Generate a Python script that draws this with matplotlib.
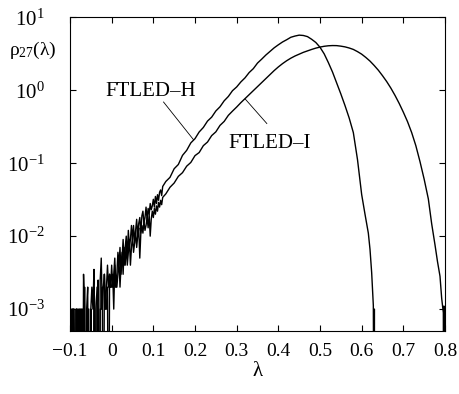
import numpy as np
import matplotlib
matplotlib.use("Agg")
import matplotlib.pyplot as plt
from matplotlib.ticker import FixedLocator, FixedFormatter, NullLocator

plt.rcParams['font.family'] = ['Liberation Serif', 'DejaVu Serif']
plt.rcParams['mathtext.fontset'] = 'custom'
plt.rcParams['mathtext.rm'] = 'Liberation Serif'
plt.rcParams['mathtext.it'] = 'Liberation Serif:italic'

# noisy low-density part: histogram bins from lambda=-0.1, width 0.0025 (values in 1e-3)
bin_start = -0.1
bin_width = 0.0025
noisy_h = [1.5, 0, 1, 1, 0, 0, 1, 1, 0, 1,
           1, 0, 0, 3, 1, 0, 1, 2, 0, 0,
           1, 2, 1, 3.5, 0, 1, 2, 1, 0, 2.5,
           5, 1, 2, 3, 1, 2, 4, 2, 3, 2,
           4, 2, 3, 5, 2, 3, 6, 4, 7, 3,
           5, 9, 4, 7, 10, 5, 12, 7, 9, 14,
           9, 14, 8, 12, 17, 10, 15, 18, 11, 19,
           22, 15, 18, 25, 17, 24, 20, 28, 23, 26,
           32, 25, 35, 28, 37, 31, 40, 43, 36, 48]
noisy_i = [0, 1, 0, 1, 1, 0, 1, 0, 1, 0,
           0, 1, 1, 0, 2, 0, 0, 1, 1, 0,
           1, 0, 0, 2, 1, 0, 1, 2.5, 0, 1,
           1, 2, 0, 3, 1, 1, 2, 0, 3, 2,
           2, 3, 1, 4, 2, 2, 3, 5, 2, 4,
           6, 3, 7, 4, 8, 4, 6, 9, 4, 7,
           10, 6, 8, 12, 7, 10, 13, 5, 11, 14,
           11, 16, 12, 14, 18, 13, 20, 10, 17, 22,
           18, 24, 20, 26, 22, 29, 25, 31, 27, 34]

# smooth part of the FTLED-H density
lam_h = [0.13, 0.14, 0.15, 0.16, 0.17, 0.18, 0.19, 0.20, 0.21, 0.22, 0.23, 0.24,
         0.25, 0.26, 0.27, 0.28, 0.29, 0.30, 0.31, 0.32, 0.33, 0.34, 0.35, 0.36,
         0.37, 0.38, 0.39, 0.40, 0.41, 0.42, 0.43, 0.44, 0.45, 0.46, 0.47, 0.48,
         0.49, 0.50, 0.51, 0.52, 0.53, 0.54, 0.55, 0.56, 0.57, 0.58, 0.59, 0.60,
         0.608, 0.616, 0.620, 0.624, 0.628, 0.630, 0.6305, 0.631, 0.632]
rho_h = [0.0562, 0.0640, 0.0840, 0.096, 0.128, 0.150, 0.190, 0.217, 0.268, 0.309, 0.378, 0.428,
         0.520, 0.594, 0.717, 0.822, 0.987, 1.11, 1.30, 1.48, 1.75, 1.98, 2.36, 2.67,
         3.04, 3.41, 3.82, 4.20, 4.59, 4.93, 5.33, 5.54, 5.70, 5.64, 5.44, 5.00,
         4.52, 3.89, 3.16, 2.40, 1.78, 1.26, 0.891, 0.617, 0.417, 0.263, 0.112, 0.0372,
         0.0200, 0.0110, 0.0066, 0.00316, 0.00112, 0.0, 0.001, 0.0, 0.0]

# smooth part of the FTLED-I density
lam_i = [0.13, 0.14, 0.15, 0.16, 0.17, 0.18, 0.19, 0.20, 0.21, 0.22, 0.23, 0.24,
         0.25, 0.26, 0.27, 0.28, 0.29, 0.30, 0.31, 0.32, 0.33, 0.34, 0.35, 0.36,
         0.37, 0.38, 0.39, 0.40, 0.41, 0.42, 0.43, 0.44, 0.45, 0.46, 0.47, 0.48,
         0.49, 0.50, 0.51, 0.52, 0.53, 0.54, 0.55, 0.56, 0.57, 0.58, 0.59, 0.60,
         0.61, 0.62, 0.63, 0.64, 0.65, 0.66, 0.67, 0.68, 0.69, 0.70, 0.71, 0.72,
         0.73, 0.74, 0.75, 0.76, 0.768, 0.776, 0.782, 0.788, 0.792, 0.796, 0.797,
         0.7975, 0.798]
rho_i = [0.0380, 0.0468, 0.0535, 0.0660, 0.0742, 0.0910, 0.1025, 0.127, 0.140, 0.174, 0.195, 0.239,
         0.269, 0.330, 0.374, 0.453, 0.518, 0.589, 0.676, 0.767, 0.871, 0.989, 1.122, 1.274,
         1.445, 1.641, 1.862, 2.089, 2.317, 2.541, 2.754, 2.951, 3.126, 3.311, 3.467, 3.631,
         3.784, 3.908, 4.009, 4.074, 4.102, 4.093, 4.027, 3.936, 3.80, 3.631, 3.388, 3.126,
         2.818, 2.512, 2.188, 1.884, 1.585, 1.318, 1.072, 0.851, 0.661, 0.501, 0.372, 0.263,
         0.174, 0.105, 0.0603, 0.0324, 0.0148, 0.00759, 0.00447, 0.00282, 0.00141, 0.00089, 0.0,
         0.0011, 0.0]

xticks = [-0.1, 0, 0.1, 0.2, 0.3, 0.4, 0.5, 0.6, 0.7, 0.8]
xlabels = ['\u22120.1', '0', '0.1', '0.2', '0.3', '0.4', '0.5', '0.6', '0.7', '0.8']
yticks = [1e-3, 1e-2, 1e-1, 1e0, 1e1]
ylabels = [r'$10^{-3}$', r'$10^{-2}$', r'$10^{-1}$', r'$10^{0}$', r'$10^{1}$']


def series(noisy, lam, rho):
    x = bin_start + bin_width * np.arange(len(noisy))
    y = np.array(noisy) * 1e-3
    x = np.concatenate([x, lam])
    y = np.concatenate([y, rho])
    y = np.where(y > 0, y, 1e-6)  # empty bins drop below the axis
    return x, y


fig = plt.figure(figsize=(4.59, 3.94), dpi=100)
ax = fig.add_axes([0.1525, 0.160, 0.817, 0.796])

xh, yh = series(noisy_h, lam_h, rho_h)
xi, yi = series(noisy_i, lam_i, rho_i)
ax.plot(xh, yh, color='black', lw=1.0)
ax.plot(xi, yi, color='black', lw=1.0)

ax.set_yscale('log')
ax.set_xlim(-0.1, 0.8)
ax.set_ylim(10 ** -3.3, 10)

ax.xaxis.set_major_locator(FixedLocator(xticks))
ax.xaxis.set_major_formatter(FixedFormatter(xlabels))
ax.yaxis.set_major_locator(FixedLocator(yticks))
ax.yaxis.set_major_formatter(FixedFormatter(ylabels))
ax.yaxis.set_minor_locator(NullLocator())
ax.tick_params(direction='in', top=True, right=True, length=4, width=0.8)
ax.tick_params(axis='x', labelsize=14, pad=9)
ax.tick_params(axis='y', labelsize=15, pad=18)
for s in ax.spines.values():
    s.set_linewidth(0.8)

# labels with leader lines
ax.plot([0.1245, 0.1964], [0.69, 0.21], color='black', lw=0.6)
ax.plot([0.3204, 0.3724], [0.76, 0.35], color='black', lw=0.6)
ax.text(0.093, 0.97, 'FTLED\u2013H', fontsize=15, ha='center', va='center')
ax.text(0.380, 0.188, 'FTLED\u2013I', fontsize=15, ha='center', va='center')

fig.text(0.072, 0.873, r'ρ$_{27}$(λ)', fontsize=14, ha='center', va='center')
fig.text(0.562, 0.058, 'λ', fontsize=15, ha='center', va='center')

fig.savefig('out.png', dpi=100)
